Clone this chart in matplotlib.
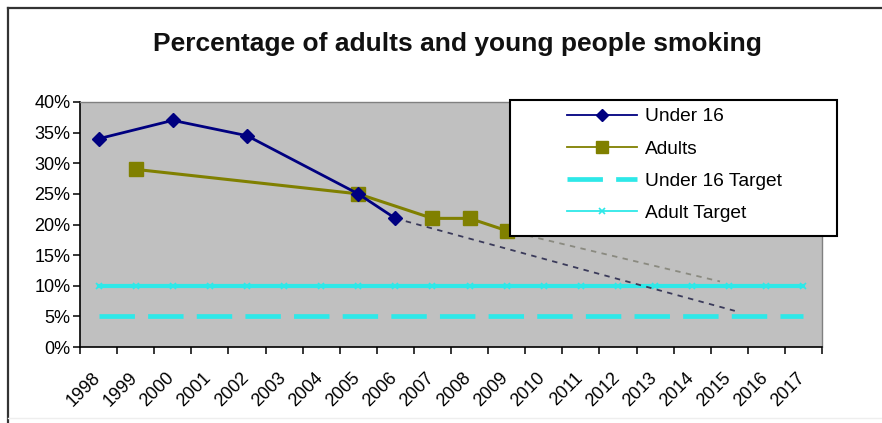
import matplotlib
matplotlib.use("Agg")
import matplotlib.pyplot as plt
from matplotlib.patches import Rectangle
from matplotlib.lines import Line2D
from matplotlib.ticker import FixedLocator, FuncFormatter
from matplotlib.transforms import ScaledTranslation

# ---- data ----
years = list(range(1998, 2018))
under16_years = [1998, 2000, 2002, 2005, 2006]
under16_pct = [34, 37, 34.5, 25, 21]
adult_years = [1999, 2005, 2007, 2008, 2009]
adult_pct = [29, 25, 21, 21, 19]
under16_target = [5] * len(years)
adult_target = [10] * len(years)
# projected trends
under16_proj_years = [2006, 2015.15]
under16_proj_pct = [21, 5.9]
adult_proj_years = [2009, 2014.75]
adult_proj_pct = [19, 10.7]

title = "Percentage of adults and young people smoking"
yticks = [0, 5, 10, 15, 20, 25, 30, 35, 40]

plt.rcParams['font.family'] = ['Liberation Sans', 'DejaVu Sans']

W, H = 882, 423
fig = plt.figure(figsize=(W / 100, H / 100), dpi=100)

def fx(px):
    return px / W

def fy(py):
    return 1 - py / H

ax = fig.add_axes([fx(80), fy(347), fx(822) - fx(80), fy(102) - fy(347)])
ax.set_facecolor('#c0c0c0')
ax.set_xlim(1997.5, 2017.5)
ax.set_ylim(0, 40)

# target lines
ax.plot(years, under16_target, color='#2ee8e8', lw=3.4, dashes=(7.5, 2.8),
        solid_capstyle='butt', dash_capstyle='butt', zorder=2)
ax.plot(years, adult_target, color='#2ee8e8', lw=3.0, marker='x', ms=5,
        mew=1.2, zorder=2)

# projected trends
ax.plot(under16_proj_years, under16_proj_pct, color='#3a3a5a', lw=1.3,
        dashes=(3, 3), zorder=3)
ax.plot(adult_proj_years, adult_proj_pct, color='#8a8a80', lw=1.3,
        dashes=(3, 3), zorder=3)

# measured series
ax.plot(adult_years, adult_pct, color='#808000', lw=2.2, marker='s', ms=9.5,
        zorder=4)
ax.plot(under16_years, under16_pct, color='#000080', lw=2.0, marker='D', ms=7.5,
        zorder=5)

# axes styling
for side in ['top', 'right']:
    ax.spines[side].set_color('#808080')
    ax.spines[side].set_linewidth(1.0)
for side in ['left', 'bottom']:
    ax.spines[side].set_color('black')
    ax.spines[side].set_linewidth(1.2)

ax.yaxis.set_major_locator(FixedLocator(yticks))
ax.yaxis.set_major_formatter(FuncFormatter(lambda v, p: f"{int(v)}%"))
ax.tick_params(axis='y', direction='out', length=5, width=1.1, pad=2,
               labelsize=13, colors='black')

ax.set_xticks(years)
ax.set_xticklabels([str(y) for y in years], rotation=45, ha='right',
                   va='top', rotation_mode='anchor')
ax.set_xticks([y - 0.5 for y in years] + [years[-1] + 0.5], minor=True)
ax.tick_params(axis='x', which='major', length=0, pad=6, labelsize=13)
ax.tick_params(axis='x', which='minor', direction='out', length=5, width=1.1)
shift = ScaledTranslation(-7 / 100, -14 / 100, fig.dpi_scale_trans)
for lbl in ax.get_xticklabels():
    lbl.set_transform(lbl.get_transform() + shift)

# title
fig.text(fx(457), fy(44), title, ha='center', va='center',
         fontsize=19, fontweight='bold', color='#111111')

# outer chart border (top and left)
fig.add_artist(Line2D([fx(8), 1.0], [fy(8), fy(8)], color='#333333', lw=1.6))
fig.add_artist(Line2D([fx(8), fx(8)], [fy(8), 0.0], color='#333333', lw=1.6))
fig.add_artist(Line2D([fx(8), 1.0], [fy(418), fy(418)], color='#eeeeee', lw=1.0))

# legend box
box = Rectangle((fx(510), fy(236)), fx(837) - fx(510), fy(100) - fy(236),
                transform=fig.transFigure, facecolor='white',
                edgecolor='black', lw=1.5, zorder=10)
fig.add_artist(box)

handles = [
    Line2D([], [], color='#000080', lw=1.3, marker='D', ms=6),
    Line2D([], [], color='#808000', lw=1.3, marker='s', ms=8),
    Line2D([], [], color='#2ee8e8', lw=3.4, dashes=(7.5, 2.8)),
    Line2D([], [], color='#2ee8e8', lw=1.3, marker='x', ms=5, mew=1.2),
]
labels = ["Under 16", "Adults", "Under 16 Target", "Adult Target"]
leg = fig.legend(handles, labels, loc='upper left',
                 bbox_to_anchor=(fx(567), fy(108)), frameon=False,
                 fontsize=13.8, handlelength=3.65, handletextpad=0.42,
                 labelspacing=0.77, borderpad=0.0, borderaxespad=0.0)
leg.set_zorder(11)

fig.savefig("out.png", dpi=100)
